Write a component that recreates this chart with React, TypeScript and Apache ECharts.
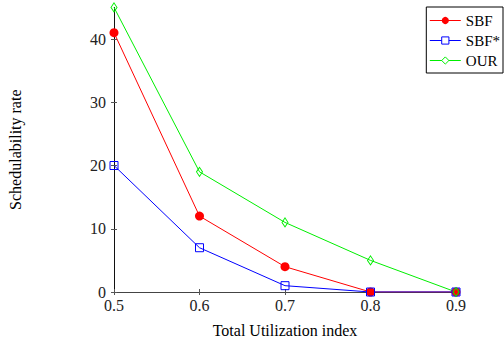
import React, { useEffect, useRef } from "react";
import * as echarts from "echarts";

const utilization = [0.5, 0.6, 0.7, 0.8, 0.9];
const sbf = [41, 12, 4, 0, 0];
const sbfStar = [20, 7, 1, 0, 0];
const our = [45, 19, 11, 5, 0];
const yTicks = [0, 10, 20, 30, 40];

const FONT = "'Liberation Serif', 'Times New Roman', serif";

export default function App() {
  const ref = useRef<HTMLDivElement>(null);
  useEffect(() => {
    document.body.style.margin = "0";
    const chart = echarts.init(ref.current!, null, { renderer: "svg" });
    const pairs = (vals: number[]) => utilization.map((x, i) => [x, vals[i]]);
    chart.setOption({
      animation: false,
      backgroundColor: "#fff",
      textStyle: { fontFamily: FONT },
      grid: { left: 114, right: 48, top: 7.4, bottom: 47, containLabel: false, outerBoundsMode: "none" },
      legend: {
        orient: "vertical",
        right: 1,
        top: 7,
        itemWidth: 31,
        itemHeight: 9,
        itemGap: 5,
        padding: [6, 3, 5, 3],
        borderColor: "#000",
        borderWidth: 1,
        borderRadius: 0,
        backgroundColor: "#fff",
        lineStyle: { width: 1 },
        textStyle: { fontFamily: FONT, fontSize: 15, color: "#000" },
        data: [
          { name: "SBF" },
          { name: "SBF*", itemStyle: { color: "#ffffff", borderColor: "#0000ff", borderWidth: 1 } },
          { name: "OUR", itemStyle: { color: "#ffffff", borderColor: "#00ee00", borderWidth: 1 } },
        ],
      },
      xAxis: [
        {
          type: "value",
          min: 0.5,
          max: 0.9,
          name: "Total Utilization index",
          nameLocation: "middle",
          nameGap: 30,
          nameTextStyle: { fontFamily: FONT, fontSize: 16, color: "#000" },
          axisLine: { show: true, lineStyle: { color: "#444", width: 1 } },
          axisTick: { show: true, length: 3, inside: true, customValues: utilization, lineStyle: { color: "#555" } },
          axisLabel: {
            customValues: utilization,
            formatter: (v: number) => v.toFixed(1),
            fontFamily: FONT,
            fontSize: 16,
            color: "#222",
            margin: 5,
          },
          splitLine: { show: false },
        },
        {
          type: "value",
          position: "bottom",
          offset: 0,
          min: 0.5,
          max: 0.9,
          axisLine: { show: false },
          axisTick: { show: true, length: 3, inside: false, customValues: utilization, lineStyle: { color: "#555" } },
          axisLabel: { show: false },
          splitLine: { show: false },
        },
      ],
      yAxis: [
        {
          type: "value",
          min: 0,
          max: 45,
          name: "Schedulability rate",
          nameLocation: "middle",
          nameGap: 91,
          nameTextStyle: { fontFamily: FONT, fontSize: 16, color: "#000" },
          axisLine: { show: true, lineStyle: { color: "#111", width: 1 } },
          axisTick: { show: true, length: 3, customValues: yTicks, lineStyle: { color: "#555" } },
          axisLabel: {
            customValues: yTicks,
            fontFamily: FONT,
            fontSize: 16,
            color: "#222",
            margin: 8,
          },
          splitLine: { show: false },
        },
        {
          type: "value",
          position: "left",
          offset: 0,
          min: 0,
          max: 45,
          axisLine: { show: false },
          axisTick: { show: true, length: 3, inside: true, customValues: yTicks, lineStyle: { color: "#555" } },
          axisLabel: { show: false },
          splitLine: { show: false },
        },
      ],
      series: [
        {
          name: "SBF",
          type: "line",
          data: pairs(sbf),
          color: "#ff0000",
          lineStyle: { color: "#ff0000", width: 1 },
          symbol: "circle",
          symbolSize: 9,
          itemStyle: { color: "#ff0000" },
        },
        {
          name: "SBF*",
          type: "line",
          data: pairs(sbfStar),
          color: "#0000ff",
          lineStyle: { color: "#0000ff", width: 1 },
          symbol: "rect",
          symbolSize: 8,
          itemStyle: { color: "rgba(255,255,255,0)", borderColor: "#0000ff", borderWidth: 1 },
        },
        {
          name: "OUR",
          type: "line",
          data: pairs(our),
          color: "#00ee00",
          lineStyle: { color: "#00ee00", width: 1 },
          symbol: "diamond",
          symbolSize: [6, 9],
          itemStyle: { color: "rgba(255,255,255,0)", borderColor: "#00ee00", borderWidth: 1 },
        },
      ],
    });
    return () => chart.dispose();
  }, []);
  return <div ref={ref} style={{ width: 504, height: 339 }} />;
}
